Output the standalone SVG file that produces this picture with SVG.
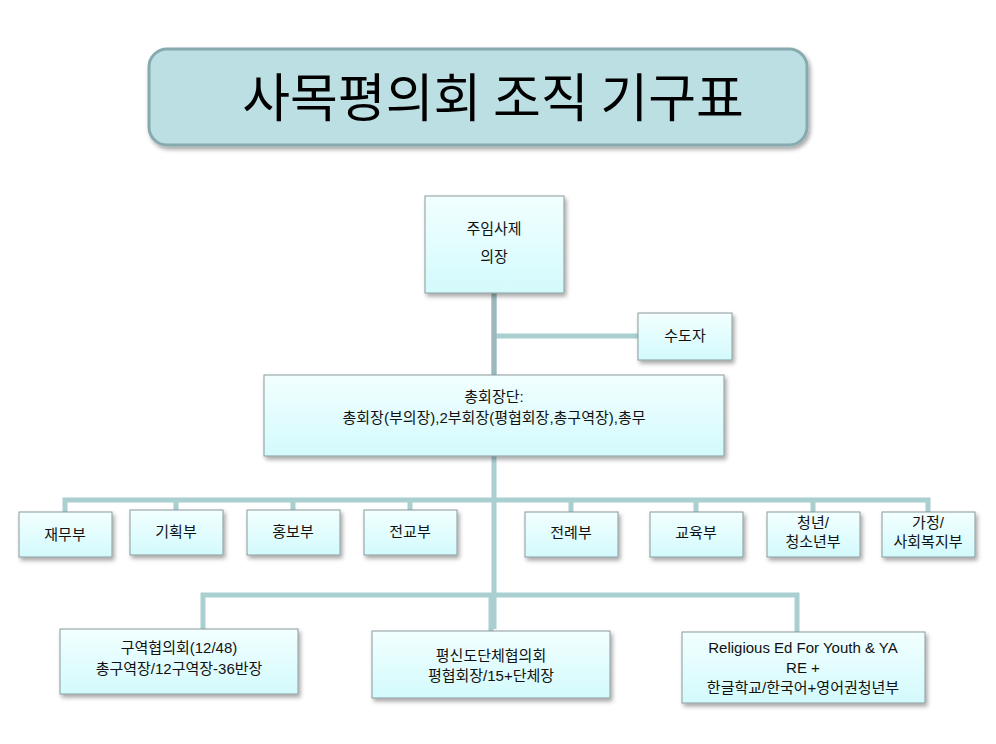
<svg xmlns="http://www.w3.org/2000/svg" width="996" height="744" viewBox="0 0 996 744">
<defs>
<linearGradient id="g" x1="0" y1="0" x2="0" y2="1"><stop offset="0" stop-color="#f2ffff"/><stop offset="1" stop-color="#d3fafc"/></linearGradient>
<filter id="sh" x="-10%" y="-10%" width="130%" height="140%"><feDropShadow dx="2" dy="3" stdDeviation="2" flood-color="#000" flood-opacity="0.35"/></filter>
</defs>
<style>
.b{fill:url(#g);stroke:#8a9a9c;stroke-width:1;filter:url(#sh)}
.t{font-family:"Liberation Sans","Noto Sans CJK KR",sans-serif;font-size:15px;fill:#111;text-anchor:middle}
.c{stroke:#a9cfd1;stroke-width:5;fill:none}
</style>
<g id="title">
<rect x="149" y="49" width="658" height="96" rx="18" fill="#bcdfe3" stroke="#86aaad" stroke-width="3" filter="url(#sh)"/>
<text x="493" y="117" font-family="'Noto Sans CJK KR',sans-serif" font-size="52" text-anchor="middle" fill="#000">사목평의회 조직 기구표</text>
</g>
<g id="connectors">
<path class="c" d="M494 293V629M494 336H638M65 512V500H928V512M176 510V500M293 510V500M410 510V500M571 512V500M696 512V500M813 512V500M203 629V595H797V632M491 631V595"/>
<path d="M494 293V375" stroke="#9bb9bc" stroke-width="5"/>
</g>
<g id="n1"><rect class="b" x="425" y="196" width="139" height="97"/><text class="t" x="494" y="234">주임사제</text><text class="t" x="494" y="262">의장</text></g>
<g id="n2"><rect class="b" x="638" y="313" width="94" height="47"/><text class="t" x="685" y="341">수도자</text></g>
<g id="n3"><rect class="b" x="264" y="375" width="460" height="81"/><text class="t" x="494" y="402">총회장단:</text><text class="t" x="494" y="423">총회장(부의장),2부회장(평협회장,총구역장),총무</text></g>
<g id="d1"><rect class="b" x="19" y="512" width="93" height="45"/><text class="t" x="65" y="540">재무부</text></g>
<g id="d2"><rect class="b" x="130" y="510" width="93" height="45"/><text class="t" x="176" y="537">기획부</text></g>
<g id="d3"><rect class="b" x="247" y="510" width="93" height="45"/><text class="t" x="293" y="537">홍보부</text></g>
<g id="d4"><rect class="b" x="364" y="510" width="93" height="45"/><text class="t" x="410" y="537">전교부</text></g>
<g id="d5"><rect class="b" x="525" y="512" width="93" height="45"/><text class="t" x="571" y="538">전례부</text></g>
<g id="d6"><rect class="b" x="650" y="512" width="93" height="45"/><text class="t" x="696" y="538">교육부</text></g>
<g id="d7"><rect class="b" x="767" y="512" width="93" height="45"/><text class="t" x="813" y="528">청년/</text><text class="t" x="813" y="547">청소년부</text></g>
<g id="d8"><rect class="b" x="882" y="512" width="93" height="45"/><text class="t" x="928" y="528">가정/</text><text class="t" x="928" y="547">사회복지부</text></g>
<g id="b1"><rect class="b" x="60" y="629" width="238" height="65"/><text class="t" x="179" y="653">구역협의회(12/48)</text><text class="t" x="179" y="674">총구역장/12구역장-36반장</text></g>
<g id="b2"><rect class="b" x="372" y="631" width="238" height="67"/><text class="t" x="491" y="661">평신도단체협의회</text><text class="t" x="491" y="681">평협회장/15+단체장</text></g>
<g id="b3"><rect class="b" x="682" y="632" width="243" height="71"/><text class="t" x="803" y="653">Religious Ed For Youth  &amp; YA</text><text class="t" x="803" y="673">RE +</text><text class="t" x="803" y="693">한글학교/한국어+영어권청년부</text></g>
</svg>
